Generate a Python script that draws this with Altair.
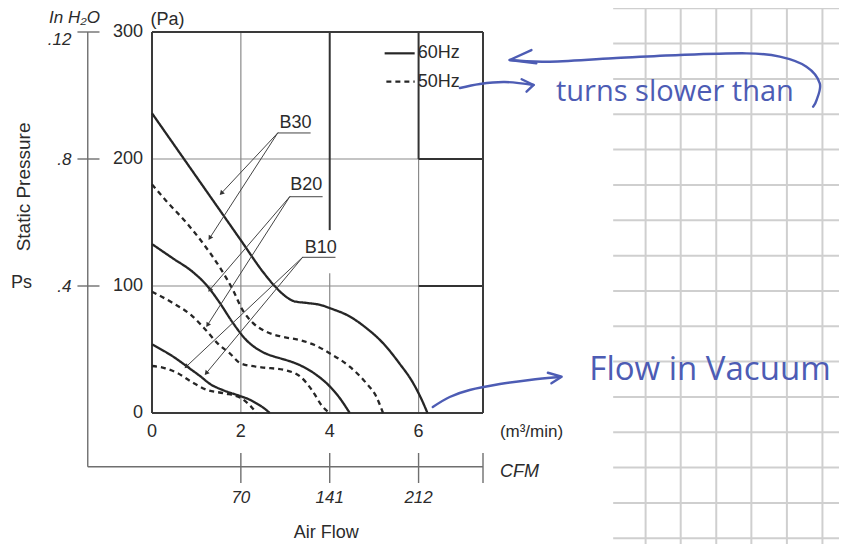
import math
import altair as alt
import pandas as pd

# ---------------- values ----------------
# air flow (m3/min) and static pressure (Pa) per model, 60 Hz (solid) and 50 Hz (dashed)
b30_60_flow = [0, 0.5, 1, 1.5, 2, 2.5, 2.76, 3.0, 3.2, 3.5, 3.8, 4.0, 4.45, 4.82, 5.2, 5.57, 5.87, 6.05, 6.14, 6.2]
b30_60_ps = [236, 211, 186, 161, 136, 111, 100, 92, 88, 86.6, 85, 82.6, 76, 67, 55, 39, 24, 12, 5, 0]
b30_50_flow = [0, 0.32, 0.77, 1.14, 1.52, 1.82, 2.04, 2.27, 2.57, 2.94, 3.32, 3.66, 4.0, 4.45, 4.82, 5.05, 5.2]
b30_50_ps = [180, 167, 150, 134, 115, 97, 81, 71, 64, 60, 57.5, 53.5, 47, 36.5, 23.6, 12.8, 0]
b20_60_flow = [0, 0.46, 0.92, 1.22, 1.52, 1.82, 2.12, 2.49, 2.76, 2.94, 3.32, 3.66, 4.0, 4.22, 4.45]
b20_60_ps = [133, 122, 111, 101, 87, 71, 57.5, 48, 44.3, 42.5, 37.8, 31, 21, 12, 0]
b20_50_flow = [0, 0.45, 0.9, 1.22, 1.5, 1.75, 2.0, 2.46, 2.96, 3.34, 3.6, 3.84, 4.0]
b20_50_ps = [95.5, 87, 76.5, 65, 54, 47, 39, 36, 34, 28.6, 18, 5, 0]
b10_60_flow = [0, 0.45, 0.85, 1.1, 1.3, 1.6, 1.97, 2.2, 2.38, 2.55, 2.65]
b10_60_ps = [54, 45, 35, 28.6, 23, 18, 13.5, 10.5, 7, 3, 0]
b10_50_flow = [0, 0.28, 0.57, 0.88, 1.25, 1.63, 2.0, 2.23, 2.35]
b10_50_ps = [37, 35.4, 31.5, 24.7, 18, 15.5, 11.8, 5, 0]

models = ["B30", "B20", "B10"]
freqs = ["60Hz", "50Hz"]
x_ticks = [0, 2, 4, 6]
y_ticks = [0, 100, 200, 300]
h2o_ticks = [300, 200, 100]
h2o_labels = [".12", ".8", ".4"]
cfm_ticks = [2, 4, 6]
cfm_labels = ["70", "141", "212"]

# ---------------- layout ----------------
X_MAX, Y_MAX = 7.45, 300
W, H = 331, 381
xs = alt.Scale(domain=[0, X_MAX], nice=False, zero=False)
ys = alt.Scale(domain=[0, Y_MAX], nice=False, zero=False)
FONT = "Liberation Sans"
INK = "#2b2b2b"
BLUE = "#4d5cb4"

curves = {
    ("B30", "60Hz"): (b30_60_flow, b30_60_ps), ("B30", "50Hz"): (b30_50_flow, b30_50_ps),
    ("B20", "60Hz"): (b20_60_flow, b20_60_ps), ("B20", "50Hz"): (b20_50_flow, b20_50_ps),
    ("B10", "60Hz"): (b10_60_flow, b10_60_ps), ("B10", "50Hz"): (b10_50_flow, b10_50_ps),
}
rows = []
for (m, f), (fx, fy) in curves.items():
    for i, (a, b) in enumerate(zip(fx, fy)):
        rows.append({"x": a, "y": b, "series": m + f, "freq": f, "o": i})
curve_df = pd.DataFrame(rows)


def X(field="x"):
    return alt.X(f"{field}:Q", scale=xs, axis=None)


def Y(field="y"):
    return alt.Y(f"{field}:Q", scale=ys, axis=None)


def seg_layer(segs, color, width, dash=None):
    df = pd.DataFrame(segs, columns=["x", "x2", "y", "y2"])
    kw = dict(color=color, strokeWidth=width)
    if dash:
        kw["strokeDash"] = dash
    return alt.Chart(df).mark_rule(**kw).encode(x=X(), x2="x2:Q", y=Y(), y2="y2:Q")


def text_layer(items, size=18, align="center", baseline="middle", style="normal",
               color=INK, angle=0, font=FONT, dx=0, dy=0):
    df = pd.DataFrame(items, columns=["x", "y", "t"])
    kw = dict(fontSize=size, align=align, baseline=baseline, fontStyle=style,
              color=color, font=font, dx=dx, dy=dy)
    if angle:
        kw["angle"] = angle
    return alt.Chart(df).mark_text(**kw).encode(x=X(), y=Y(), text="t:N")


def path_layer(paths, color, width, interp="linear"):
    rows = []
    for k, pts in enumerate(paths):
        for i, (a, b) in enumerate(pts):
            rows.append({"x": a, "y": b, "p": k, "o": i})
    df = pd.DataFrame(rows)
    return alt.Chart(df).mark_line(color=color, strokeWidth=width, interpolate=interp,
                                   strokeCap="round", strokeJoin="round").encode(
        x=X(), y=Y(), detail="p:N", order="o:Q")


layers = []

# graph-paper background on the right
paper_x = [11.11, 11.90, 12.70, 13.49, 14.29, 15.09]
paper_y = [318.7, 290.9, 263.0, 235.2, 207.4, 179.5, 151.7, 123.9, 96.1, 68.3, 40.5, 12.6,
           -15.2, -43.0, -70.9, -98.7]
paper = [(v, v, -115, 330) for v in paper_x] + [(10.38, 16.5, v, v) for v in paper_y]
layers.append(seg_layer(paper, "#cfcfcf", 2))

# inner grid
layers.append(seg_layer([(2, 2, 0, 300), (4, 4, 0, 110), (6, 6, 0, 200),
                         (0, 7.45, 100, 100), (0, 7.45, 200, 200)], "#8a8a8a", 1.2))
layers.append(seg_layer([(4, 4, 144, 300), (6, 6, 200, 300),
                         (6, 7.45, 200, 200), (6, 7.45, 100, 100)], "#333333", 2))
# frame
layers.append(seg_layer([(0, 0, 0, 300), (X_MAX, X_MAX, 0, 300),
                         (0, X_MAX, 0, 0), (0, X_MAX, 300, 300)], "#3a3a3a", 2))

# secondary axes (in H2O at left, CFM at bottom)
layers.append(seg_layer([(-1.446, -1.446, -42.3, 300), (-1.446, X_MAX, -42.3, -42.3)]
                        + [(-1.678, -1.182, v, v) for v in h2o_ticks]
                        + [(v, v, -55.1, -31.5) for v in cfm_ticks + [X_MAX]], "#6f6f6f", 1.4))

# curves
layers.append(alt.Chart(curve_df).mark_line(strokeWidth=2.3, color="#262626", interpolate="monotone").encode(
    x=X(), y=Y(), detail="series:N", order="o:Q",
    strokeDash=alt.StrokeDash("freq:N", scale=alt.Scale(domain=freqs, range=[[1, 0], [5, 4]]), legend=None)))

# legend
layers.append(seg_layer([(5.236, 5.912, 283.2, 283.2)], "#262626", 2.2))
layers.append(seg_layer([(5.275, 5.912, 260.9, 260.9)], "#262626", 2.2, dash=[5, 4]))
layers.append(text_layer([(5.98, 283.2, freqs[0]), (5.98, 260.9, freqs[1])], size=18, align="left"))

# model labels with underlines and arrows
lab_pos = [(3.23, 228.3), (3.47, 179.5), (3.8, 130)]
underline = [(2.83, 3.57, 220.5), (3.1, 3.84, 170.3), (3.39, 4.13, 122.6)]
tips = [[(1.56, 173), (1.3, 137.8)], [(1.3, 96.9), (1.25, 69.3)], [(0.77, 36.5), (1.22, 31.3)]]
layers.append(text_layer([(p[0], p[1], m) for p, m in zip(lab_pos, models)], size=18))
layers.append(seg_layer([(a, b, c, c) for a, b, c in underline], "#444444", 1))
arrow_paths, heads = [], []
for (a, b, c), tp in zip(underline, tips):
    for tx, ty in tp:
        arrow_paths.append([(a, c), (tx, ty)])
        dxs = (tx - a) * W / X_MAX
        dys = -(ty - c) * H / Y_MAX
        ang = math.degrees(math.atan2(dxs, -dys)) % 360
        heads.append({"x": tx, "y": ty, "a": ang})
layers.append(path_layer(arrow_paths, "#444444", 1))
layers.append(alt.Chart(pd.DataFrame(heads)).mark_point(shape="triangle-up", size=28, filled=True,
                                                        color="#333333", opacity=1).encode(
    x=X(), y=Y(), angle=alt.Angle("a:Q", scale=None)))

# tick labels
layers.append(text_layer([(0, v, str(v)) for v in y_ticks], align="right", dx=-9))
layers.append(text_layer([(v, 0, str(v)) for v in x_ticks], dy=19))
layers.append(text_layer([(-1.813, v, t) for v, t in zip([293.7, 199, 99.4], h2o_labels)],
                         size=17, align="right", style="italic"))
layers.append(text_layer([(v, -66.9, t) for v, t in zip(cfm_ticks, cfm_labels)], size=17, style="italic"))

# titles / units
layers.append(text_layer([(-1.745, 311, "In H\u2082O")], size=17, style="italic"))
layers.append(text_layer([(7.83, -46.2, "CFM")], size=18, style="italic", align="left"))
layers.append(text_layer([(0.35, 309.4, "(Pa)"), (3.92, -94.5, "Air Flow"), (-2.94, 102.4, "Ps")], size=18))
layers.append(text_layer([(7.83, -14.7, "(m\u00b3/min)")], size=17, align="left"))
layers.append(text_layer([(-2.87, 178, "Static Pressure")], size=19, angle=270))

# handwritten notes
blue_paths = [
    [(6.93, 255.9), (7.38, 259.1), (7.94, 260.6), (8.59, 258.3)],
    [(8.05, 277.95), (8.88, 276.6), (10.37, 279.3), (11.88, 281.9), (13.38, 283.2), (14.13, 280.6),
     (14.73, 272.7), (15.03, 259.6), (14.96, 246.5), (14.88, 241.2)],
    [(6.32, 4.7), (6.70, 12.6), (7.15, 18.1), (7.83, 22.8), (8.50, 26.0), (9.18, 28.3)],
]
blue_heads = [
    [(8.32, 262.8), (8.59, 258.3), (8.43, 253.0)],
    [(8.54, 285.8), (8.05, 277.95), (8.65, 275.4)],
    [(8.91, 31.7), (9.22, 28.6), (8.99, 23.4)],
]
layers.append(path_layer(blue_paths, BLUE, 2.4, interp="cardinal"))
layers.append(path_layer(blue_heads, BLUE, 2.4))
layers.append(text_layer([(11.77, 245.7, "turns slower than")], size=29, baseline="alphabetic",
                         color=BLUE, font="Open Sans"))
layers.append(text_layer([(12.56, 26, "Flow in Vacuum")], size=33, baseline="alphabetic",
                         color=BLUE, font="Open Sans"))

chart = alt.layer(*layers).properties(
    width=W, height=H,
    padding={"left": 144, "top": 24, "right": 356, "bottom": 131},
    autosize=alt.AutoSizeParams(type="none"),
    background="white",
).configure_view(stroke=None)

chart.save("out.html", embed_options={"renderer": "svg", "actions": False})
